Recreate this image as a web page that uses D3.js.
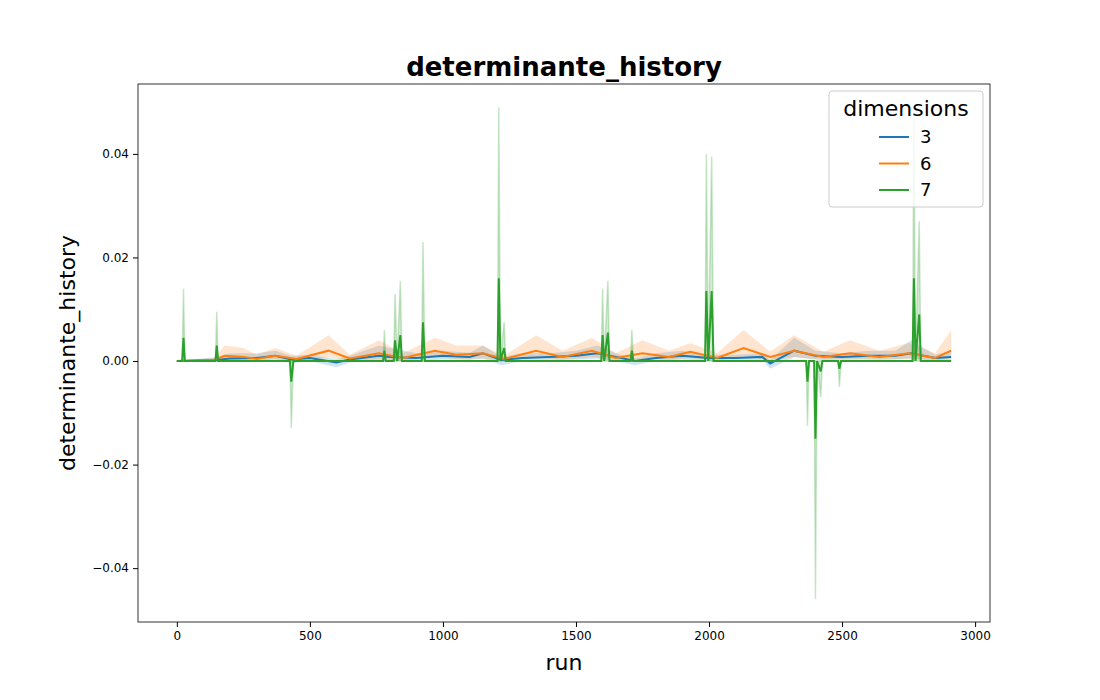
<!DOCTYPE html>
<html>
<head>
<meta charset="utf-8">
<script src="https://cdn.jsdelivr.net/npm/d3@7"></script>
<style>body{margin:0;background:#fff}</style>
</head>
<body>
<div id="chart"></div>
<script>
// rows: [run, mean, ci_low, ci_high]
const dim3 = [
  [0,0,0,0],[150,0.0002,0,0.0008],[200,0.0005,0,0.0015],[300,0.0006,0.0001,0.0015],
  [370,0.001,0.0003,0.002],[430,0.0003,-0.0005,0.001],[500,0.0006,0,0.0012],
  [600,-0.0003,-0.0012,0.0004],[650,0.0003,-0.0003,0.001],[760,0.001,0,0.003],
  [800,0.0008,0,0.0025],[900,0.0006,0,0.0015],[1000,0.001,0.0003,0.002],
  [1100,0.0008,0.0002,0.0016],[1150,0.0015,0.0005,0.003],[1220,0.0002,-0.0008,0.0008],
  [1300,0.0006,0,0.0015],[1400,0.0008,0.0002,0.0015],[1500,0.001,0.0003,0.002],
  [1580,0.0015,0.0005,0.003],[1650,0.0008,0,0.0015],[1720,0,-0.0008,0.0005],
  [1800,0.0006,0,0.0015],[1900,0.001,0.0003,0.002],[2000,0.0006,0,0.0012],
  [2100,0.0006,0,0.0012],[2200,0.0008,0.0002,0.0015],[2230,-0.0005,-0.0015,0.0002],
  [2320,0.002,0.0008,0.0045],[2400,0.001,0.0003,0.002],[2500,0.0008,0.0002,0.0015],
  [2600,0.001,0.0003,0.002],[2700,0.001,0.0003,0.002],[2760,0.0015,0.0005,0.004],
  [2850,0.0006,0,0.0012],[2910,0.0008,0,0.002]
];
const dim6 = [
  [0,0,0,0],[140,0.0002,0,0.0006],[180,0.001,0.0002,0.003],[250,0.0008,0.0002,0.0025],
  [300,0.0004,0,0.0012],[370,0.001,0.0003,0.0025],[450,0.0004,0,0.001],
  [570,0.002,0.0008,0.005],[650,0.0005,0,0.0012],[760,0.0015,0.0004,0.004],
  [850,0.0006,0,0.0015],[970,0.002,0.0008,0.0045],[1050,0.0012,0.0004,0.003],
  [1150,0.0015,0.0005,0.003],[1230,0.0004,0,0.001],[1350,0.002,0.0008,0.005],
  [1450,0.0008,0.0002,0.002],[1560,0.002,0.0008,0.0045],[1650,0.0006,0,0.0015],
  [1750,0.0015,0.0005,0.004],[1850,0.0008,0.0002,0.002],[1930,0.0018,0.0006,0.0035],
  [2030,0.0006,0,0.0015],[2130,0.0025,0.001,0.006],[2230,0.0008,0.0002,0.0018],
  [2320,0.002,0.0008,0.005],[2430,0.0008,0.0002,0.0018],[2530,0.0015,0.0005,0.004],
  [2640,0.0008,0.0002,0.002],[2750,0.0015,0.0005,0.0035],[2850,0.0006,0,0.0015],
  [2910,0.002,0.0006,0.006]
];
const dim7 = [
  [0,0,0,0],[20,0,0,0],[25,0.0045,0,0.014],[30,0,0,0],[145,0,0,0],[150,0.003,0,0.0095],
  [155,0,0,0],[425,0,0,0],[430,-0.004,-0.013,0],[438,0,0,0],[775,0,0,0],
  [780,0.002,0,0.006],[785,0,0,0],[815,0,0,0],[820,0.004,0,0.013],[828,0,0,0],
  [840,0.005,0,0.0155],[846,0,0,0],[920,0,0,0],[925,0.0075,0,0.023],[932,0,0,0],
  [1205,0,0,0],[1210,0.016,0,0.049],[1216,0,0,0],[1230,0.0025,0,0.0075],[1236,0,0,0],
  [1595,0,0,0],[1600,0.005,0,0.014],[1606,0,0,0],[1620,0.0055,0,0.0155],[1626,0,0,0],
  [1705,0,0,0],[1710,0.002,0,0.006],[1716,0,0,0],[1985,0,0,0],[1990,0.0135,0,0.040],
  [1997,0,0,0],[2010,0.0135,0,0.0395],[2017,0,0,0],[2365,0,0,0],[2370,-0.004,-0.0125,0],
  [2376,0,0,0],[2395,0,0,0],[2400,-0.015,-0.046,0],[2406,0,0,0],[2420,-0.002,-0.007,0],
  [2426,0,0,0],[2485,0,0,0],[2490,-0.0015,-0.005,0],[2496,0,0,0],[2765,0,0,0],
  [2770,0.016,0,0.047],[2776,0,0,0],[2790,0.009,0,0.027],[2796,0,0,0],[2910,0,0,0]
];
const seriesNames = ["3", "6", "7"];
const seriesColors = ["#1f77b4", "#ff7f0e", "#2ca02c"];
const yTicks = [-0.04, -0.02, 0.00, 0.02, 0.04];
const xTicks = [0, 500, 1000, 1500, 2000, 2500, 3000];

const WIDTH = 1100, HEIGHT = 700;
const PLOT = { LEFT: 138, RIGHT: 990, TOP: 84, BOTTOM: 622 };

const svg = d3.select("#chart").append("svg")
  .attr("width", WIDTH).attr("height", HEIGHT)
  .style("font-family", "DejaVu Sans");

const xScale = d3.scaleLinear().domain([-146, 3056]).range([PLOT.LEFT, PLOT.RIGHT]);
const yScale = d3.scaleLinear().domain([-0.0504, 0.0535]).range([PLOT.BOTTOM, PLOT.TOP]);

const area = d3.area().x(d => xScale(d[0])).y0(d => yScale(d[2])).y1(d => yScale(d[3]));
const line = d3.line().x(d => xScale(d[0])).y(d => yScale(d[1]));

const allSeries = [dim3, dim6, dim7];
allSeries.forEach((s, i) => {
  svg.append("path").datum(s).attr("d", area)
    .attr("fill", seriesColors[i]).attr("fill-opacity", 0.2)
    .attr("stroke", i === 2 ? seriesColors[i] : "none")
    .attr("stroke-opacity", 0.25).attr("stroke-width", 1.5);
});
allSeries.forEach((s, i) => {
  svg.append("path").datum(s).attr("d", line)
    .attr("fill", "none").attr("stroke", seriesColors[i]).attr("stroke-width", 2);
});

// frame
svg.append("rect").attr("x", PLOT.LEFT).attr("y", PLOT.TOP)
  .attr("width", PLOT.RIGHT - PLOT.LEFT).attr("height", PLOT.BOTTOM - PLOT.TOP)
  .attr("fill", "none").attr("stroke", "#000").attr("stroke-width", 0.8);

const fmt = v => d3.format(".2f")(v).replace("-", "\u2212");
svg.append("g").attr("transform", `translate(0,${PLOT.BOTTOM})`)
  .call(d3.axisBottom(xScale).tickValues(xTicks).tickFormat(d3.format("d")).tickSize(5).tickPadding(4))
  .call(g => g.select(".domain").remove())
  .selectAll("text").style("font-size", "12px").style("font-family", "DejaVu Sans");
svg.append("g").attr("transform", `translate(${PLOT.LEFT},0)`)
  .call(d3.axisLeft(yScale).tickValues(yTicks).tickFormat(fmt).tickSize(5).tickPadding(4))
  .call(g => g.select(".domain").remove())
  .selectAll("text").style("font-size", "12px").style("font-family", "DejaVu Sans");

svg.append("text").attr("x", (PLOT.LEFT + PLOT.RIGHT) / 2).attr("y", 670)
  .attr("text-anchor", "middle").style("font-size", "22px").text("run");
svg.append("text").attr("transform", "rotate(-90)")
  .attr("x", -(PLOT.TOP + PLOT.BOTTOM) / 2).attr("y", 75)
  .attr("text-anchor", "middle").style("font-size", "22px").text("determinante_history");
svg.append("text").attr("x", (PLOT.LEFT + PLOT.RIGHT) / 2).attr("y", 76)
  .attr("text-anchor", "middle").style("font-size", "26px").style("font-weight", "bold")
  .text("determinante_history");

// legend
const lg = svg.append("g");
lg.append("rect").attr("x", 829).attr("y", 91).attr("width", 154).attr("height", 116)
  .attr("rx", 3).attr("fill", "#fff").attr("fill-opacity", 0.8)
  .attr("stroke", "#ccc");
lg.append("text").attr("x", 906).attr("y", 116).attr("text-anchor", "middle")
  .style("font-size", "22px").text("dimensions");
seriesNames.forEach((n, i) => {
  const y = 137 + i * 26.5;
  lg.append("line").attr("x1", 879).attr("x2", 909).attr("y1", y).attr("y2", y)
    .attr("stroke", seriesColors[i]).attr("stroke-width", 2);
  lg.append("text").attr("x", 920).attr("y", y + 6).style("font-size", "18px").text(n);
});
</script>
</body>
</html>
